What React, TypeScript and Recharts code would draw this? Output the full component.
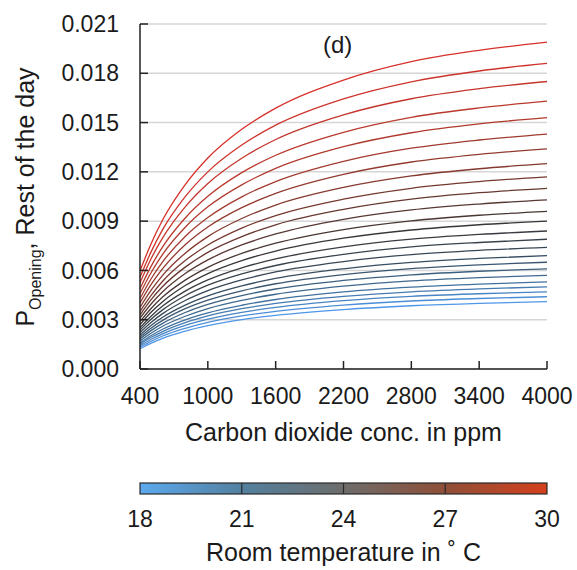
import { CartesianGrid, Label, Line, LineChart, XAxis, YAxis } from "recharts";

const CO2_PPM = [400, 500, 600, 800, 1000, 1300, 1600, 2200, 2800, 3400, 4000];
const X_TICKS = [400, 1000, 1600, 2200, 2800, 3400, 4000];
const Y_TICKS = [0, 0.003, 0.006, 0.009, 0.012, 0.015, 0.018, 0.021];
const TEMP_TICKS = [18, 21, 24, 27, 30];

// opening probability over the rest of the day, one curve per room temperature,
// sampled at CO2_PPM
const p18 = [0.00123, 0.00158, 0.00187, 0.00231, 0.00264, 0.00301, 0.00327, 0.00362, 0.00385, 0.004, 0.0041];
const p18_5 = [0.00132, 0.00169, 0.00201, 0.00248, 0.00284, 0.00323, 0.00351, 0.00389, 0.00414, 0.00429, 0.0044];
const p19 = [0.00141, 0.00181, 0.00214, 0.00265, 0.00303, 0.00345, 0.00375, 0.00416, 0.00442, 0.00458, 0.0047];
const p19_5 = [0.0015, 0.00193, 0.00228, 0.00282, 0.00323, 0.00367, 0.00399, 0.00442, 0.0047, 0.00488, 0.005];
const p20 = [0.00159, 0.00204, 0.00242, 0.00299, 0.00342, 0.00388, 0.00423, 0.00469, 0.00498, 0.00517, 0.0053];
const p20_5 = [0.00171, 0.00219, 0.0026, 0.00321, 0.00368, 0.00418, 0.00455, 0.00504, 0.00536, 0.00556, 0.0057];
const p21 = [0.00183, 0.00235, 0.00278, 0.00344, 0.00393, 0.00447, 0.00487, 0.00539, 0.00573, 0.00595, 0.0061];
const p21_5 = [0.00195, 0.0025, 0.00296, 0.00367, 0.00419, 0.00476, 0.00519, 0.00575, 0.00611, 0.00634, 0.0065];
const p22 = [0.00207, 0.00266, 0.00315, 0.00389, 0.00445, 0.00506, 0.00551, 0.0061, 0.00649, 0.00673, 0.0069];
const p22_5 = [0.00222, 0.00285, 0.00337, 0.00417, 0.00477, 0.00542, 0.00591, 0.00654, 0.00696, 0.00722, 0.0074];
const p23 = [0.00237, 0.00304, 0.0036, 0.00446, 0.0051, 0.00579, 0.0063, 0.00698, 0.00743, 0.0077, 0.0079];
const p23_5 = [0.00252, 0.00323, 0.00383, 0.00474, 0.00542, 0.00616, 0.0067, 0.00743, 0.0079, 0.00819, 0.0084];
const p24 = [0.0027, 0.00347, 0.0041, 0.00508, 0.00581, 0.0066, 0.00718, 0.00796, 0.00846, 0.00878, 0.009];
const p24_5 = [0.00288, 0.0037, 0.00438, 0.00541, 0.00619, 0.00704, 0.00766, 0.00849, 0.00902, 0.00936, 0.0096];
const p25 = [0.00309, 0.00397, 0.0047, 0.00581, 0.00664, 0.00755, 0.00822, 0.00911, 0.00968, 0.01004, 0.0103];
const p25_5 = [0.0033, 0.00424, 0.00502, 0.0062, 0.0071, 0.00806, 0.00878, 0.00972, 0.01034, 0.01073, 0.011];
const p26 = [0.00351, 0.0045, 0.00534, 0.0066, 0.00755, 0.00858, 0.00934, 0.01034, 0.011, 0.01141, 0.0117];
const p26_5 = [0.00375, 0.00481, 0.0057, 0.00705, 0.00806, 0.00916, 0.00998, 0.01105, 0.01175, 0.01219, 0.0125];
const p27 = [0.00402, 0.00516, 0.00611, 0.00756, 0.00864, 0.00982, 0.01069, 0.01185, 0.0126, 0.01307, 0.0134];
const p27_5 = [0.00429, 0.00551, 0.00652, 0.00807, 0.00922, 0.01048, 0.01141, 0.01264, 0.01344, 0.01394, 0.0143];
const p28 = [0.00459, 0.00589, 0.00698, 0.00863, 0.00987, 0.01121, 0.01221, 0.01353, 0.01438, 0.01492, 0.0153];
const p28_5 = [0.00489, 0.00628, 0.00743, 0.00919, 0.01051, 0.01195, 0.01301, 0.01441, 0.01532, 0.01589, 0.0163];
const p29 = [0.00525, 0.00674, 0.00798, 0.00987, 0.01129, 0.01283, 0.01397, 0.01547, 0.01645, 0.01706, 0.0175];
const p29_5 = [0.00558, 0.00716, 0.00848, 0.01049, 0.012, 0.01363, 0.01484, 0.01644, 0.01748, 0.01814, 0.0186];
const p30 = [0.00597, 0.00766, 0.00907, 0.01122, 0.01284, 0.01459, 0.01588, 0.01759, 0.01871, 0.0194, 0.0199];

const SERIES = [
  { temp: 18, values: p18 },
  { temp: 18.5, values: p18_5 },
  { temp: 19, values: p19 },
  { temp: 19.5, values: p19_5 },
  { temp: 20, values: p20 },
  { temp: 20.5, values: p20_5 },
  { temp: 21, values: p21 },
  { temp: 21.5, values: p21_5 },
  { temp: 22, values: p22 },
  { temp: 22.5, values: p22_5 },
  { temp: 23, values: p23 },
  { temp: 23.5, values: p23_5 },
  { temp: 24, values: p24 },
  { temp: 24.5, values: p24_5 },
  { temp: 25, values: p25 },
  { temp: 25.5, values: p25_5 },
  { temp: 26, values: p26 },
  { temp: 26.5, values: p26_5 },
  { temp: 27, values: p27 },
  { temp: 27.5, values: p27_5 },
  { temp: 28, values: p28 },
  { temp: 28.5, values: p28_5 },
  { temp: 29, values: p29 },
  { temp: 29.5, values: p29_5 },
  { temp: 30, values: p30 },
];

const FONT = '"Liberation Sans", Arial, sans-serif';
const INK = "#1a1a1a";

// line colours: blue (cool) through dark grey to red (warm)
const LINE_STOPS: [number, string][] = [
  [18, "#4f97e8"],
  [20, "#41729f"],
  [22, "#374d60"],
  [24, "#3a3636"],
  [26, "#76392e"],
  [28, "#b03a2e"],
  [30, "#d8302a"],
];

// colour bar gradient
const BAR_STOPS: [number, string][] = [
  [0, "#5ba9ee"],
  [0.25, "#53809f"],
  [0.5, "#6d6d6b"],
  [0.75, "#8f4f37"],
  [1, "#d5401c"],
];

function hexToRgb(hex: string) {
  const n = parseInt(hex.slice(1), 16);
  return [(n >> 16) & 255, (n >> 8) & 255, n & 255];
}

function tempColor(temp: number) {
  for (let i = 0; i < LINE_STOPS.length - 1; i++) {
    const [t0, c0] = LINE_STOPS[i];
    const [t1, c1] = LINE_STOPS[i + 1];
    if (temp <= t1) {
      const f = (temp - t0) / (t1 - t0);
      const a = hexToRgb(c0);
      const b = hexToRgb(c1);
      const rgb = a.map((v, k) => Math.round(v + (b[k] - v) * f));
      return `rgb(${rgb.join(",")})`;
    }
  }
  return LINE_STOPS[LINE_STOPS.length - 1][1];
}

const keyFor = (temp: number) => `t${String(temp).replace(".", "_")}`;

const chartData = CO2_PPM.map((ppm, i) => {
  const row: Record<string, number> = { ppm };
  SERIES.forEach((s) => {
    row[keyFor(s.temp)] = s.values[i];
  });
  return row;
});

// plot box in page pixels
const PLOT_LEFT = 140;
const PLOT_RIGHT = 547;

function ColorBar() {
  const t0 = TEMP_TICKS[0];
  const t1 = TEMP_TICKS[TEMP_TICKS.length - 1];
  const xOf = (t: number) => PLOT_LEFT + ((t - t0) / (t1 - t0)) * (PLOT_RIGHT - PLOT_LEFT);
  return (
    <svg
      width={577}
      height={110}
      style={{ position: "absolute", left: 0, top: 460, fontFamily: FONT }}
    >
      <defs>
        <linearGradient id="tempGradient" x1="0" x2="1" y1="0" y2="0">
          {BAR_STOPS.map(([o, c]) => (
            <stop key={o} offset={o} stopColor={c} />
          ))}
        </linearGradient>
      </defs>
      <rect
        x={PLOT_LEFT}
        y={23}
        width={PLOT_RIGHT - PLOT_LEFT}
        height={11}
        fill="url(#tempGradient)"
        stroke="#2a2a2a"
        strokeWidth={1.2}
      />
      {TEMP_TICKS.slice(1, -1).map((t) => (
        <line key={t} x1={xOf(t)} x2={xOf(t)} y1={23} y2={34} stroke="#2a2a2a" strokeWidth={1.2} />
      ))}
      {TEMP_TICKS.map((t) => (
        <text key={t} x={xOf(t)} y={67} textAnchor="middle" fontSize={23} fill={INK}>
          {t}
        </text>
      ))}
      <text x={(PLOT_LEFT + PLOT_RIGHT) / 2} y={101} textAnchor="middle" fontSize={25} fill={INK}>
        Room temperature in ˚ C
      </text>
    </svg>
  );
}

export default function App() {
  return (
    <div
      style={{
        position: "absolute",
        left: 0,
        top: 0,
        width: 577,
        height: 570,
        background: "#ffffff",
        fontFamily: FONT,
      }}
    >
      <LineChart
        width={577}
        height={460}
        data={chartData}
        margin={{ top: 24, right: 30, left: 0, bottom: 0 }}
      >
        <CartesianGrid vertical={false} stroke="#d6d6d6" strokeWidth={1.5} />
        <XAxis
          dataKey="ppm"
          type="number"
          domain={[400, 4000]}
          ticks={X_TICKS}
          interval={0}
          height={91}
          tickSize={-8}
          tickMargin={27}
          axisLine={{ stroke: "#222", strokeWidth: 1.5 }}
          tickLine={{ stroke: "#222", strokeWidth: 1.5 }}
          tick={{ fill: INK, fontSize: 23, fontFamily: FONT }}
        >
          <Label
            content={() => (
              <text x={(PLOT_LEFT + PLOT_RIGHT) / 2} y={441} textAnchor="middle" fontSize={25} fill={INK} fontFamily={FONT}>
                Carbon dioxide conc. in ppm
              </text>
            )}
          />
        </XAxis>
        <YAxis
          type="number"
          domain={[0, 0.021]}
          ticks={Y_TICKS}
          interval={0}
          width={140}
          tickSize={-8}
          tickMargin={29}
          tickFormatter={(v: number) => v.toFixed(3)}
          axisLine={{ stroke: "#222", strokeWidth: 1.5 }}
          tickLine={{ stroke: "#222", strokeWidth: 1.5 }}
          tick={{ fill: INK, fontSize: 23, fontFamily: FONT }}
        >
          <Label
            content={() => (
              <text transform="rotate(-90 34 197)" x={34} y={197} textAnchor="middle" fontSize={25} fill={INK} fontFamily={FONT}>
                P
                <tspan fontSize={16} dy={7}>
                  Opening
                </tspan>
                <tspan dy={-7}>, Rest of the day</tspan>
              </text>
            )}
          />
        </YAxis>
        {SERIES.map((s) => (
          <Line
            key={s.temp}
            dataKey={keyFor(s.temp)}
            type="monotone"
            stroke={tempColor(s.temp)}
            strokeWidth={1.3}
            dot={false}
            activeDot={false}
            isAnimationActive={false}
          />
        ))}
      </LineChart>
      <div
        style={{
          position: "absolute",
          left: 323,
          top: 33,
          fontSize: 24,
          color: INK,
          lineHeight: "24px",
        }}
      >
        (d)
      </div>
      <ColorBar />
    </div>
  );
}
